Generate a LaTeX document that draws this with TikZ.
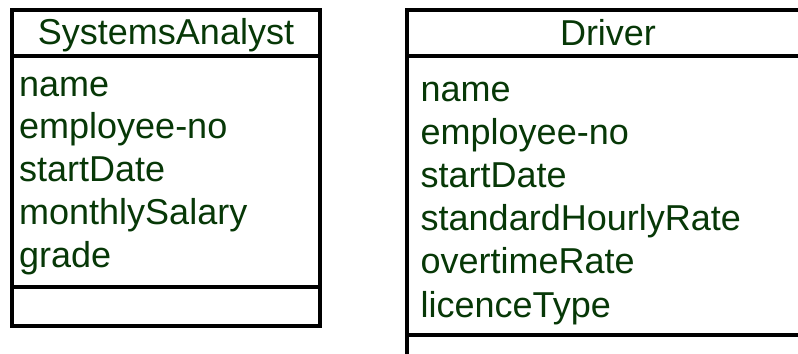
\documentclass[tikz,border=0pt]{standalone}
\usepackage{fontspec}
\setmainfont{Liberation Sans}
\definecolor{attrgreen}{HTML}{073807}
\begin{document}
\begin{tikzpicture}[x=1bp,y=-1bp,
  frame/.style={draw=black,line width=4bp},
  txt/.style={text=attrgreen,inner sep=0pt,font=\fontsize{36bp}{43bp}\selectfont},
  attr/.style={txt,anchor=base west},
  ctitle/.style={txt,anchor=base}]
\useasboundingbox[fill=white] (0,0) rectangle (798,353);

% class SystemsAnalyst
\coordinate (saTL) at (12,10);
\coordinate (saBR) at (320,326);
\draw[frame] (saTL) rectangle (saBR);
\draw[frame] (12,56) -- (320,56);
\draw[frame] (12,287) -- (320,287);
\node[ctitle] (saName) at (166,44) {SystemsAnalyst};
\node[attr] (sa1) at (19,96)    {name};
\node[attr] (sa2) at (19,138.5) {employee-no};
\node[attr] (sa3) at (19,181.5) {startDate};
\node[attr] (sa4) at (19,224.5) {monthlySalary};
\node[attr] (sa5) at (19,267)   {grade};

% class Driver (runs past the right and bottom edges)
\coordinate (drTL) at (407,10);
\coordinate (drBR) at (812,370);
\draw[frame] (drTL) rectangle (drBR);
\draw[frame] (407,56) -- (812,56);
\draw[frame] (407,334.5) -- (812,334.5);
\node[ctitle] (drName) at (608,45) {Driver};
\node[attr] (dr1) at (420.5,101)   {name};
\node[attr] (dr2) at (420.5,144.2) {employee-no};
\node[attr] (dr3) at (420.5,187.4) {startDate};
\node[attr] (dr4) at (420.5,230.6) {standardHourlyRate};
\node[attr] (dr5) at (420.5,273.8) {overtimeRate};
\node[attr] (dr6) at (420.5,317)   {licenceType};
\end{tikzpicture}
\end{document}
